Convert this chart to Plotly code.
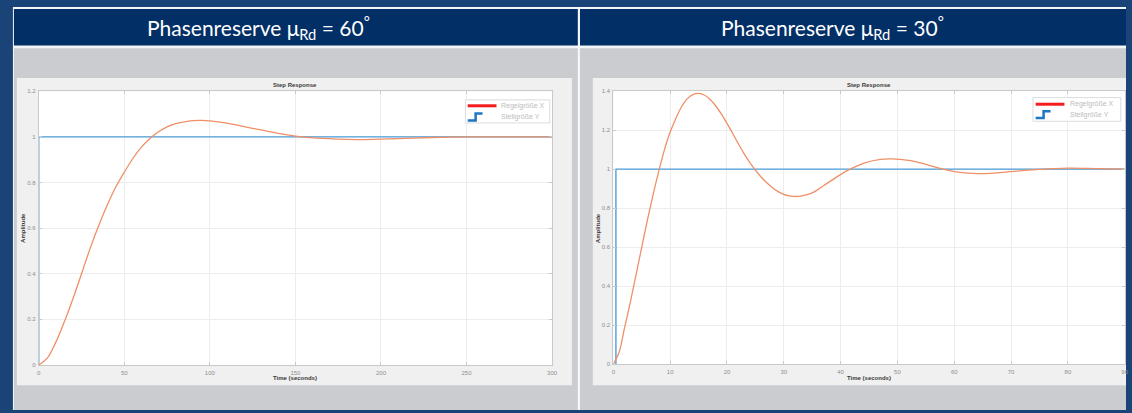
import plotly.graph_objects as go

W, H = 1132, 413

# ---- data -------------------------------------------------------------
# phase margin 60 deg: controlled variable X over time
t60 = [0, 5, 10, 15, 20, 25, 30, 35, 40, 45, 50, 55, 60, 65, 70, 75, 80, 85,
       90, 95, 100, 110, 120, 130, 140, 150, 160, 175, 190, 210, 230, 250,
       275, 300]
x60 = [0.0, 0.03, 0.10, 0.19, 0.29, 0.40, 0.51, 0.61, 0.70, 0.78, 0.845,
       0.905, 0.955, 0.993, 1.022, 1.044, 1.058, 1.066, 1.071, 1.072, 1.07,
       1.06, 1.045, 1.03, 1.015, 1.003, 0.995, 0.99, 0.988, 0.992, 0.997, 1.0,
       1.0, 1.0]
# phase margin 30 deg
t30 = [0, 1, 2, 3, 4, 5, 6, 7, 8, 9, 10, 11, 12, 13, 14, 15, 16, 17, 18, 19,
       20, 21, 22, 23, 24, 25, 26, 27, 28, 29, 30, 31, 32, 33, 35, 38, 41, 44,
       47, 49, 52, 55, 58, 61, 64, 67, 71, 75, 80, 85, 90]
x30 = [0.0, 0.06, 0.19, 0.32, 0.46, 0.60, 0.74, 0.87, 0.99, 1.10, 1.19, 1.26,
       1.32, 1.36, 1.382, 1.388, 1.38, 1.358, 1.325, 1.283, 1.235, 1.183, 1.13,
       1.08, 1.035, 0.995, 0.96, 0.93, 0.905, 0.885, 0.871, 0.863, 0.86,
       0.862, 0.878, 0.935, 0.99, 1.03, 1.05, 1.053, 1.045, 1.025, 1.0, 0.983,
       0.977, 0.98, 0.99, 0.999, 1.005, 1.003, 1.0]

# manipulated variable Y: unit step
step60_t = [0, 0, 300]
step60_y = [0, 1, 1]
step30_t = [0.45, 0.45, 90]
step30_y = [0, 1, 1]

xticks60 = [0, 50, 100, 150, 200, 250, 300]
yticks60 = [0, 0.2, 0.4, 0.6, 0.8, 1, 1.2]
xticks30 = [0, 10, 20, 30, 40, 50, 60, 70, 80, 90]
yticks30 = [0, 0.2, 0.4, 0.6, 0.8, 1, 1.2, 1.4]

headers = ["Phasenreserve μ<sub>Rd</sub> = 60<sup>°</sup>",
           "Phasenreserve μ<sub>Rd</sub> = 30<sup>°</sup>"]
legend_labels = ["Regelgröße X", "Stellgröße Y"]

# ---- styling ----------------------------------------------------------
NAVY = "#022f66"
SLIDE_BG = "#1a4478"
PANEL_GRAY = "#cbccd0"
FIG_GRAY = "#f0f0f0"
ORANGE = "#ef8f66"
BLUE = "#4b9ed8"
TICK_GRAY = "#8e8e8e"
AXIS_GRAY = "#c9c9c9"
GRID = "#ededed"
SMALL = dict(family="Liberation Sans", size=6, color="#3a3a3a")


def px(x):
    return x / W


def py(y):
    return 1 - y / H


fig = go.Figure()
shapes = []
annos = []


def rect(x0, y0, x1, y1, color, line=None):
    shapes.append(dict(type="rect", xref="paper", yref="paper",
                       x0=px(x0), x1=px(x1), y0=py(y1), y1=py(y0),
                       fillcolor=color, line=dict(width=0) if line is None else line,
                       layer="below"))


def text(s, x, y, font, xanchor="center", angle=0):
    annos.append(dict(text=s, x=px(x), y=py(y), xref="paper", yref="paper",
                      xanchor=xanchor, yanchor="middle", textangle=angle,
                      showarrow=False, font=font))


# slide background
rect(0, 0, W, H, SLIDE_BG)
rect(11, 4, W, H, "#f4f6f9")
# header bars
rect(12, 6, 580, 43, NAVY)
rect(582, 6, W, 43, NAVY)
# gray content panels
rect(12, 46, 580, H, PANEL_GRAY)
rect(582, 46, W, H, PANEL_GRAY)
# MATLAB figure windows
rect(15, 76, 574, 388, FIG_GRAY)
rect(595, 76, W, 388, FIG_GRAY)

# axes geometry (pixels)
axes = [
    dict(x0=37, x1=554, y0=367.3, y1=89.5, xr=[0, 300], yr=[0, 1.2],
         xt=xticks60, yt=yticks60, t=t60, v=x60, st=step60_t, sy=step60_y),
    dict(x0=615.7, x1=1130.7, y0=366.6, y1=89.4, xr=[0, 90], yr=[0, 1.4],
         xt=xticks30, yt=yticks30, t=t30, v=x30, st=step30_t, sy=step30_y),
]

layout_axes = {}
for i, a in enumerate(axes):
    n = "" if i == 0 else str(i + 1)
    rect(a["x0"], a["y1"], a["x1"], a["y0"], "white")
    common = dict(showgrid=True, gridcolor=GRID, gridwidth=1, zeroline=False,
                  showline=True, linecolor=AXIS_GRAY, linewidth=1, mirror="ticks",
                  ticks="inside", ticklen=3, tickcolor=AXIS_GRAY,
                  tickfont=dict(family="Liberation Sans", size=6, color=TICK_GRAY),
                  fixedrange=True)
    layout_axes["xaxis" + n] = dict(
        common, domain=[px(a["x0"]), px(a["x1"])], range=a["xr"],
        tickvals=a["xt"], ticktext=[str(v) for v in a["xt"]],
        anchor="y" + n, ticklabelstandoff=2)
    layout_axes["yaxis" + n] = dict(
        common, domain=[py(a["y0"]), py(a["y1"])], range=a["yr"],
        tickvals=a["yt"], ticktext=[f"{v:g}" for v in a["yt"]],
        anchor="x" + n, ticklabelstandoff=1)

    fig.add_trace(go.Scatter(x=a["st"], y=a["sy"], mode="lines",
                             line=dict(color=BLUE, width=1.4),
                             xaxis="x" + n, yaxis="y" + n, showlegend=False))
    fig.add_trace(go.Scatter(x=a["t"], y=a["v"], mode="lines",
                             line=dict(color=ORANGE, width=1.3, shape="spline",
                                       smoothing=1.0),
                             xaxis="x" + n, yaxis="y" + n, showlegend=False))

    cx = (a["x0"] + a["x1"]) / 2
    text("<b>Step Response</b>", cx, 83, SMALL)
    text("<b>Time (seconds)</b>", cx, 380.5, SMALL)
    text("<b>Amplitude</b>", a["x0"] - 16, (a["y0"] + a["y1"]) / 2, SMALL, angle=-90)

# legend boxes drawn by hand (red bar + blue step glyph)
legends = [dict(bx0=466.7, bx1=551.7, by0=98.3, by1=121.7, lx=469, row1=104.3, row2=115.7, tx=500.7),
           dict(bx0=1038.3, bx1=1126.7, by0=96, by1=120, lx=1041, row1=102.7, row2=113.3, tx=1074)]
for L in legends:
    shapes.append(dict(type="rect", xref="paper", yref="paper",
                       x0=px(L["bx0"]), x1=px(L["bx1"]), y0=py(L["by1"]), y1=py(L["by0"]),
                       fillcolor="white", line=dict(color="#dcdcdc", width=1), layer="above"))
    shapes.append(dict(type="line", xref="paper", yref="paper",
                       x0=px(L["lx"]), x1=px(L["lx"] + 29), y0=py(L["row1"]), y1=py(L["row1"]),
                       line=dict(color="#f41c1c", width=3), layer="above"))
    r2 = L["row2"]
    sx = L["lx"]
    path = (f"M {px(sx)},{py(r2 + 3.5)} L {px(sx + 8)},{py(r2 + 3.5)} "
            f"L {px(sx + 8)},{py(r2 - 3.5)} L {px(sx + 15)},{py(r2 - 3.5)}")
    shapes.append(dict(type="path", xref="paper", yref="paper", path=path,
                       line=dict(color="#1f77c4", width=2.5), layer="above"))
    for lbl, ry in zip(legend_labels, [L["row1"], r2]):
        text(lbl, L["tx"], ry, dict(family="Liberation Sans", size=7, color="#bdbdbd"),
             xanchor="left")

# slide header titles
for hx, txt in zip([258, 836], headers):
    text(txt, hx, 25, dict(family="Lato", size=21, color="white"))

# white separator between the two panels
shapes.append(dict(type="line", xref="paper", yref="paper", x0=px(581), x1=px(581),
                   y0=py(H), y1=py(4), line=dict(color="#f4f6f9", width=2), layer="below"))

fig.update_layout(width=W, height=H, margin=dict(l=0, r=0, t=0, b=0),
                  paper_bgcolor=SLIDE_BG, plot_bgcolor="rgba(0,0,0,0)",
                  shapes=shapes, annotations=annos, showlegend=False,
                  **layout_axes)

fig.write_html("out.html")
